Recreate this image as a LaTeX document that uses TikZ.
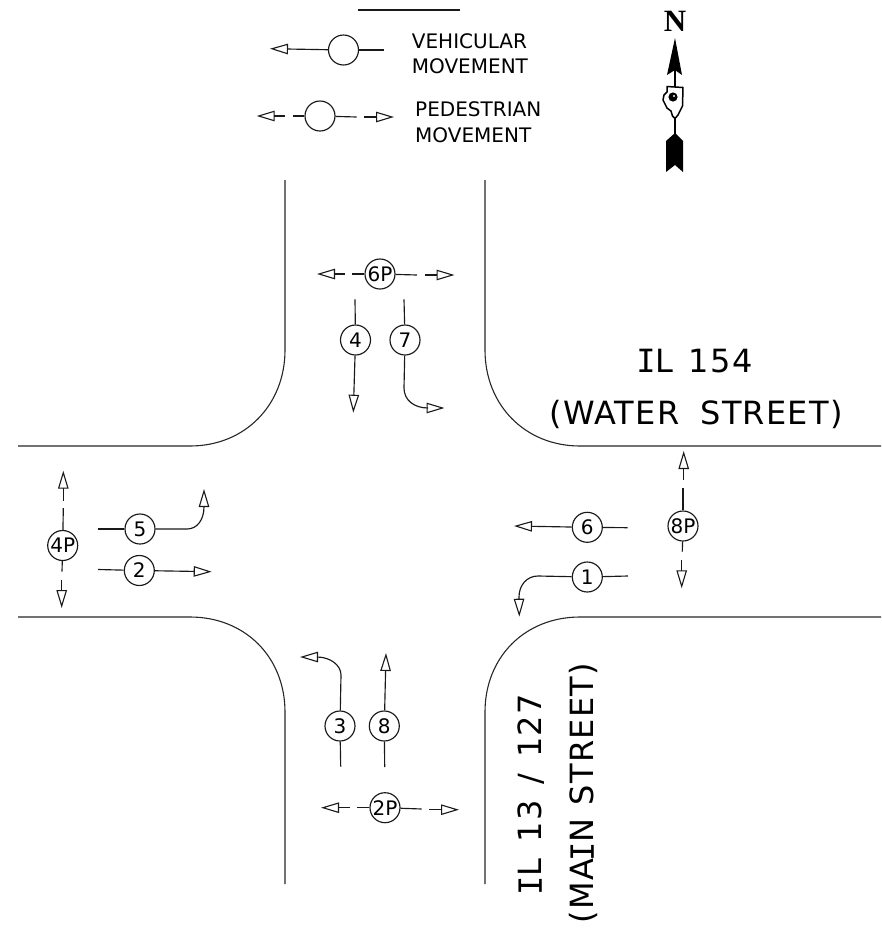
\documentclass[tikz,border=0pt]{standalone}
\usepackage{fontspec}
\setmainfont{DejaVu Sans}
\newfontfamily\nfont{Liberation Serif}
\newfontfamily\widef[LetterSpace=4]{DejaVu Sans}
\newfontfamily\monoi{DejaVu Sans Mono}
\newcommand{\serifI}{\hspace{-3pt}{\monoi I}\hspace{-0.5pt}}
\usetikzlibrary{arrows.meta}
\tikzset{
 x=1pt,y=-1pt,
 ln/.style={line width=1.15pt,black!90},
 arr/.style={ln,-{Triangle[open,length=18pt,width=10.5pt,line width=1.1pt]}},
 sig/.style={circle,draw=black!90,line width=1.15pt,minimum size=30pt,inner sep=0pt,font=\fontsize{20}{20}\selectfont},
 leg/.style={font=\fontsize{20}{25.5}\selectfont,anchor=west,align=left,inner sep=0pt},
 road/.style={line width=1.1pt,black!85},
 rlabel/.style={font=\widef\fontsize{32}{52}\selectfont,align=center,inner sep=0pt}
}
\begin{document}
\begin{tikzpicture}
\useasboundingbox (0,0) rectangle (882,930);
% roads
\draw[road] (285,180) -- (285,350) .. controls (285,405) and (245,446) .. (190,446) -- (18,446);
\draw[road] (485,180) -- (485,350) .. controls (485,405) and (525,446) .. (580,446) -- (881,446);
\draw[road] (18,617) -- (190,617) .. controls (245,617) and (285,657) .. (285,712) -- (285,884);
\draw[road] (881,617) -- (580,617) .. controls (525,617) and (485,657) .. (485,712) -- (485,884);
% legend
\coordinate (t) at (358,10); \coordinate (u) at (460,10);
\draw[ln] (t) -- (u);
\node[sig] (lv) at (343.5,50) {};
\coordinate (lva) at (270,48.7); \coordinate (lvb) at (384.3,50);
\draw[arr] (lv) -- (lva); \draw[ln] (lv) -- (lvb);
\node[sig] (lp) at (320,116) {};
\coordinate (lp1) at (292.7,116); \coordinate (lp2) at (285,116); \coordinate (lp3) at (256.7,116);
\coordinate (lp4) at (356.7,117); \coordinate (lp5) at (364,117); \coordinate (lp6) at (394,117);
\draw[ln] (lp) -- (lp1); \draw[arr] (lp2) -- (lp3);
\draw[ln] (lp) -- (lp4); \draw[arr] (lp5) -- (lp6);
\node[leg] (tv) at (411.7,53.5) {VEHICULAR\\MOVEMENT};
\node[leg] (tp) at (415,122) {PEDESTRIAN\\MOVEMENT};
% north arrow
\node[font=\nfont\bfseries\fontsize{31}{31}\selectfont,inner sep=0pt] (nn) at (675,21) {N};
\fill[black] (675,38) -- (682,75) -- (675,70) -- (667,75) -- cycle;
\draw[line width=1.6pt] (675,70) -- (675,87);
\draw[line width=1.6pt] (675,118) -- (675,134);
\fill[black] (675,133) -- (683,141) -- (683,172) -- (675,165) -- (666,172) -- (666,141) -- cycle;
\draw[line width=1.5pt,line join=round] (667,86.5) -- (683,87.5) -- (682.5,106) -- (680,111) -- (678,115) -- (675,118.5) -- (672.5,116) -- (671,111) -- (667,108) -- (665,104) -- (663,100) -- (664,95) -- (667,92) -- cycle;
\fill (673,97) circle (4.6pt);
\fill[white] (674,96) circle (1.2pt);
% 6P
\node[sig] (p6) at (380,274) {6P};
\coordinate (p6a) at (352,274); \coordinate (p6b) at (345,274); \coordinate (p6c) at (317,274);
\coordinate (p6d) at (417,275); \coordinate (p6e) at (425,275); \coordinate (p6f) at (454.5,275);
\draw[ln] (p6) -- (p6a); \draw[arr] (p6b) -- (p6c);
\draw[ln] (p6) -- (p6d); \draw[arr] (p6e) -- (p6f);
% 4 7
\node[sig] (s4) at (355.5,340) {4};
\coordinate (s4a) at (355,299.3); \coordinate (s4b) at (353.3,412.7);
\draw[ln] (s4a) -- (s4); \draw[arr] (s4) -- (s4b);
\node[sig] (s7) at (405,340) {7};
\coordinate (s7a) at (404,299.3); \coordinate (s7b) at (444.5,408);
\draw[ln] (s7a) -- (s7);
\draw[arr] (s7) -- (404,388) .. controls (404,400) and (414,408) .. (428,408) -- (s7b);
% 4P
\node[sig] (p4) at (62.7,545.5) {4P};
\coordinate (p4a) at (63.3,508); \coordinate (p4b) at (63.3,500.7); \coordinate (p4c) at (63.3,470.7);
\coordinate (p4d) at (62,571.7); \coordinate (p4e) at (61.7,580); \coordinate (p4f) at (61.7,608);
\draw[ln] (p4) -- (p4a); \draw[arr] (p4b) -- (p4c);
\draw[ln] (p4) -- (p4d); \draw[arr] (p4e) -- (p4f);
% 5 2
\node[sig] (s5) at (140,529) {5};
\coordinate (s5a) at (98.3,529); \coordinate (s5b) at (204,489);
\draw[ln] (s5a) -- (s5);
\draw[arr] (s5) -- (187,529) .. controls (197,529) and (204,520) .. (204,506.7) -- (s5b);
\node[sig] (s2) at (139.3,570.5) {2};
\coordinate (s2a) at (98,569.5); \coordinate (s2b) at (211.7,571.7);
\draw[ln] (s2a) -- (s2); \draw[arr] (s2) -- (s2b);
% 6 1 8P
\node[sig] (s6) at (587.3,527.3) {6};
\coordinate (s6a) at (627.7,527.7); \coordinate (s6b) at (514,526);
\draw[ln] (s6a) -- (s6); \draw[arr] (s6) -- (s6b);
\node[sig] (s1) at (587.3,577) {1};
\coordinate (s1a) at (628,576); \coordinate (s1b) at (519.3,616.7);
\draw[ln] (s1a) -- (s1);
\draw[arr] (s1) -- (538,576) .. controls (527,576) and (519,585) .. (519,597) -- (s1b);
\node[sig] (p8) at (683,526) {8P};
\coordinate (p8a) at (683,488.3); \coordinate (p8b) at (683.7,480); \coordinate (p8c) at (683.7,451);
\coordinate (p8d) at (682.3,551.7); \coordinate (p8e) at (681.7,560); \coordinate (p8f) at (681.7,588.3);
\draw[ln] (p8) -- (p8a); \draw[arr] (p8b) -- (p8c);
\draw[ln] (p8) -- (p8d); \draw[arr] (p8e) -- (p8f);
% 3 8
\node[sig] (s3) at (340,726) {3};
\coordinate (s3a) at (340.7,766.7); \coordinate (s3b) at (300,657);
\draw[ln] (s3a) -- (s3);
\draw[arr] (s3) -- (341,675) .. controls (341,665) and (330,657) .. (317,657) -- (s3b);
\node[sig] (s8) at (384.3,726) {8};
\coordinate (s8a) at (384.7,767); \coordinate (s8b) at (386,653);
\draw[ln] (s8a) -- (s8); \draw[arr] (s8) -- (s8b);
% 2P
\node[sig] (p2) at (385,807.7) {2P};
\coordinate (p2a) at (356.7,807.7); \coordinate (p2b) at (350,807.7); \coordinate (p2c) at (321,807.7);
\coordinate (p2d) at (421.7,809); \coordinate (p2e) at (429,809.7); \coordinate (p2f) at (459,809.7);
\draw[ln] (p2) -- (p2a); \draw[arr] (p2b) -- (p2c);
\draw[ln] (p2) -- (p2d); \draw[arr] (p2e) -- (p2f);
% street labels
\node[rlabel] (w) at (696,389) {\serifI L\hspace{16pt}154\\(WATER\hspace{21pt}STREET)};
\node[rlabel,rotate=90] (m) at (558,793) {\serifI L\hspace{16pt}13\hspace{16pt}/\hspace{16pt}127\\(MA\serifI N\hspace{14pt}STREET)};
\end{tikzpicture}
\end{document}
